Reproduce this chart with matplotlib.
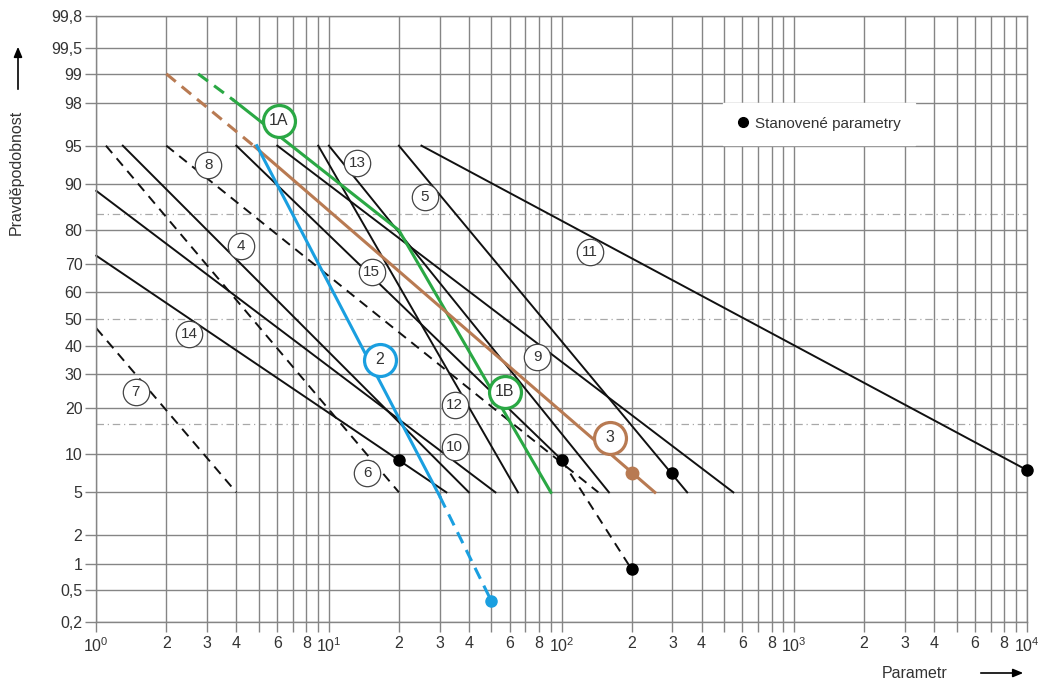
import numpy as np
import matplotlib
matplotlib.use("Agg")
import matplotlib.pyplot as plt
from matplotlib.lines import Line2D
from matplotlib.ticker import FixedLocator, FuncFormatter
from statistics import NormalDist

plt.rcParams['font.family'] = ['Liberation Sans', 'DejaVu Sans']
plt.rcParams['mathtext.fontset'] = 'custom'
plt.rcParams['mathtext.rm'] = 'Liberation Sans'
plt.rcParams['mathtext.it'] = 'Liberation Sans:italic'

# --- data (x = parametr, p = pravdepodobnost in %) ---
y_ticks = [0.2, 0.5, 1, 2, 5, 10, 20, 30, 40, 50, 60, 70, 80, 90, 95, 98, 99, 99.5, 99.8]
sigma_lines = [15.87, 50, 84.13]

# solid black lines: start (x, p) -> end (x, p)
black_x0 = [1.3, 1.0, 1.0, 4.0, 6.0, 9.0, 10.0, 20.0, 25.0]
black_p0 = [95, 88.8, 72.6, 95, 95, 95, 95, 95, 95]
black_x1 = [40, 52, 32, 100, 548, 65, 160, 347, 10000]
black_p1 = [5, 5, 5, 9.1, 5, 5, 5, 5, 7.6]

# dashed black lines
dash_x0 = [1.1, 1.0, 2.0, 100]
dash_p0 = [95, 46.5, 95, 9.1]
dash_x1 = [20, 4.0, 144, 200]
dash_p1 = [5, 5, 5, 0.88]

# green line 1A / 1B
green_dash_x = [2.74, 3.9]
green_dash_p = [99, 98.1]
green_x = [3.9, 20, 90]
green_p = [98.1, 80, 5]

# brown line 3
brown_dash_x = [2.0, 4.8]
brown_dash_p = [99, 94.9]
brown_x = [4.8, 252]
brown_p = [94.9, 5]
brown_dot_x = [200]
brown_dot_p = [7.2]

# blue line 2
blue_x = [4.9, 30]
blue_p = [95, 4.6]
blue_dash_x = [30, 50]
blue_dash_p = [4.6, 0.37]
blue_dot_x = [50]
blue_dot_p = [0.37]

# determined parameters (black dots)
dot_x = [20, 100, 200, 300, 10000]
dot_p = [9.1, 9.1, 0.88, 7.2, 7.6]

# circled line numbers
lab_text = ['4', '5', '6', '7', '8', '9', '10', '11', '12', '13', '14', '15']
lab_x = [4.19, 25.9, 14.6, 1.48, 3.03, 78.5, 34.8, 132, 34.8, 13.2, 2.51, 15.3]
lab_p = [75.6, 87.7, 7.2, 24.5, 92.8, 36, 11.3, 73.8, 20.8, 93.1, 44.5, 67.3]

clab_text = ['1A', '1B', '2', '3']
clab_x = [6.1, 57.1, 16.6, 161]
clab_p = [97.0, 24.5, 35, 13.0]

GREEN = '#2aa844'
BLUE = '#1a9fe0'
BROWN = '#b87a52'
clab_col = [GREEN, GREEN, BLUE, BROWN]

# --- normal probability scale ---
_nd = NormalDist()
_ppf = np.vectorize(_nd.inv_cdf, otypes=[float])
_cdf = np.vectorize(_nd.cdf, otypes=[float])


def prob_fwd(p):
    q = np.asarray(p, float) / 100.0
    q = np.where(np.isfinite(q), q, 0.5)
    q = np.clip(q, 1e-6, 1 - 1e-6)
    return _ppf(q)


def prob_inv(z):
    z = np.asarray(z, float)
    z = np.where(np.isfinite(z), z, 0.0)
    return _cdf(z) * 100.0


fig = plt.figure(figsize=(10.42, 6.82), dpi=100)
ax = fig.add_axes([96.3 / 1042, 1 - 622.3 / 682, 930.4 / 1042, 606.6 / 682])

ax.set_xscale('log')
ax.set_yscale('function', functions=(prob_fwd, prob_inv))
ax.set_xlim(1, 1e4)
ax.set_ylim(0.2, 99.8)

grid_col = '#858585'
txt_col = '#333333'

# x axis: decades + 2..9
ax.xaxis.set_major_locator(FixedLocator([1, 10, 100, 1000, 10000]))
ax.xaxis.set_minor_locator(FixedLocator([k * 10 ** d for d in range(4) for k in range(2, 10)]))
ax.xaxis.set_major_formatter(FuncFormatter(lambda v, pos: r'$10^{%d}$' % round(np.log10(v))))


def minor_fmt(v, pos):
    k = int(round(v / 10 ** np.floor(np.log10(v) + 1e-9)))
    return str(k) if k in (2, 3, 4, 6, 8) else ''


ax.xaxis.set_minor_formatter(FuncFormatter(minor_fmt))
ax.grid(True, which='both', axis='x', color=grid_col, lw=1.0, zorder=0)

ax.yaxis.set_major_locator(FixedLocator(y_ticks))
ax.yaxis.set_minor_locator(FixedLocator([]))
ax.yaxis.set_major_formatter(FuncFormatter(lambda v, pos: ('%g' % v).replace('.', ',')))
for v in y_ticks:
    if v != 50:
        ax.axhline(v, color=grid_col, lw=1.0, zorder=0.5)
for v in sigma_lines:
    ax.axhline(v, color='#a8a8a8', lw=0.9, ls=(0, (6, 3, 1, 3)), zorder=0.6)

ax.tick_params(which='both', direction='out', color=grid_col, labelcolor=txt_col,
               labelsize=11.5, width=1.0)
ax.tick_params(axis='y', length=8, pad=2)
ax.tick_params(axis='x', which='both', length=7, pad=3)
for s in ax.spines.values():
    s.set_color(grid_col)
    s.set_linewidth(1.0)

# --- lines ---
for x0, p0, x1, p1 in zip(black_x0, black_p0, black_x1, black_p1):
    ax.plot([x0, x1], [p0, p1], color='#111111', lw=1.4, zorder=2, clip_on=False)
for x0, p0, x1, p1 in zip(dash_x0, dash_p0, dash_x1, dash_p1):
    ax.plot([x0, x1], [p0, p1], color='#111111', lw=1.4, ls=(0, (5, 3.5)), zorder=2)

ax.plot(green_dash_x, green_dash_p, color=GREEN, lw=2.2, ls=(0, (4, 2.5)), zorder=3)
ax.plot(green_x, green_p, color=GREEN, lw=2.2, zorder=3)
ax.plot(brown_dash_x, brown_dash_p, color=BROWN, lw=2.2, ls=(0, (4, 2.5)), zorder=3)
ax.plot(brown_x, brown_p, color=BROWN, lw=2.2, zorder=3)
ax.plot(blue_x, blue_p, color=BLUE, lw=2.2, zorder=3)
ax.plot(blue_dash_x, blue_dash_p, color=BLUE, lw=2.2, ls=(0, (4, 2.5)), zorder=3)

ax.plot(dot_x, dot_p, 'o', color='black', ms=8, zorder=4, clip_on=False)
ax.plot(brown_dot_x, brown_dot_p, 'o', color=BROWN, ms=9, zorder=4)
ax.plot(blue_dot_x, blue_dot_p, 'o', color=BLUE, ms=8, zorder=4)

# --- circled labels ---
for t, x, p in zip(lab_text, lab_x, lab_p):
    ax.plot([x], [p], 'o', ms=19, mfc='white', mec='#444444', mew=0.9, zorder=5)
    ax.text(x, p, t, ha='center', va='center', fontsize=11, color=txt_col, zorder=6)
for t, x, p, c in zip(clab_text, clab_x, clab_p, clab_col):
    ax.plot([x], [p], 'o', ms=23, mfc='white', mec=c, mew=2.3, zorder=5)
    ax.text(x, p, t, ha='center', va='center', fontsize=11.5, color=txt_col, zorder=6)

# --- legend ---
handle = Line2D([], [], marker='o', color='black', ls='none', ms=7)
leg = ax.legend([handle], ['Stanovené parametry'], loc='upper left',
                bbox_to_anchor=(723 / 1042, 1 - 103 / 682), bbox_transform=fig.transFigure,
                frameon=True, fancybox=False, edgecolor='white', framealpha=1,
                fontsize=11, borderpad=0.9, handletextpad=0.4, handlelength=0.8,
                borderaxespad=0)
leg.set_zorder(7)
for t in leg.get_texts():
    t.set_color(txt_col)

# --- axis titles with arrows ---
fig.text(16 / 1042, 1 - 172 / 682, 'Pravděpodobnost', rotation=90, ha='center', va='center',
         fontsize=11.5, color=txt_col)
fig.text(915 / 1042, 1 - 673 / 682, 'Parametr', ha='center', va='center',
         fontsize=11.5, color=txt_col)
fig.patches.append(matplotlib.patches.FancyArrowPatch(
    (18 / 1042, 1 - 92 / 682), (18 / 1042, 1 - 44 / 682), transform=fig.transFigure,
    arrowstyle='-|>,head_length=6,head_width=2.5', color='black', lw=1.2))
fig.patches.append(matplotlib.patches.FancyArrowPatch(
    (978 / 1042, 1 - 673 / 682), (1026 / 1042, 1 - 673 / 682), transform=fig.transFigure,
    arrowstyle='-|>,head_length=6,head_width=2.5', color='black', lw=1.2))

fig.savefig('out.png', dpi=100)
